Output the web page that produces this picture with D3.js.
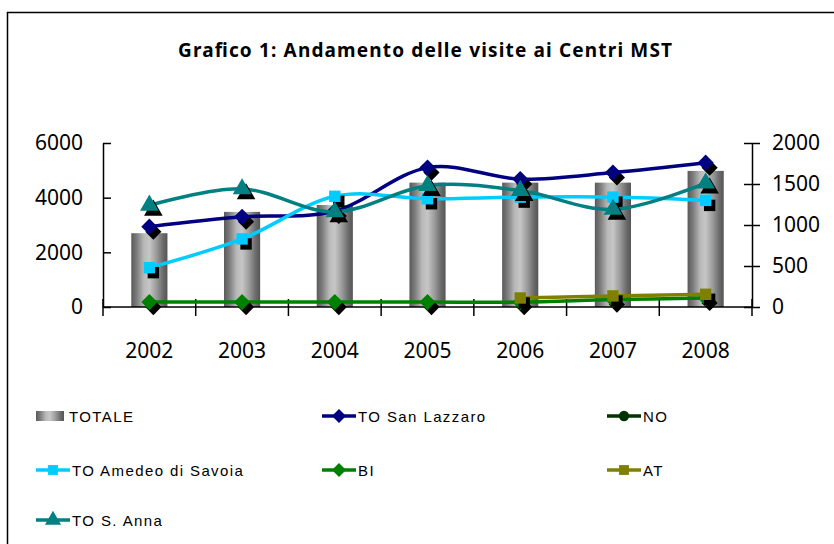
<!DOCTYPE html>
<html>
<head>
<meta charset="utf-8">
<script src="https://cdn.jsdelivr.net/npm/d3@7"></script>
<style>
  body { margin: 0; background: #fff; }
  svg { display: block; }
</style>
</head>
<body>
<svg id="chart" width="834" height="544"></svg>
<script>
// values
const years = ["2002", "2003", "2004", "2005", "2006", "2007", "2008"];
const totale = [2700, 3480, 3730, 4550, 4550, 4550, 4980];
const sanLazzaro = [980, 1100, 1170, 1700, 1560, 1640, 1760];
const novara = [null, null, null, null, null, null, null];
const amedeo = [480, 830, 1350, 1320, 1340, 1340, 1300];
const biella = [60, 60, 60, 60, 60, 90, 110];
const asti = [null, null, null, null, 110, 135, 155];
const sAnna = [1240, 1440, 1160, 1480, 1420, 1190, 1510];
const leftTicks = [0, 2000, 4000, 6000];
const rightTicks = [0, 500, 1000, 1500, 2000];

const series = [
    { name: "TO San Lazzaro", values: sanLazzaro, color: "#000080", shape: "diamond" },
    { name: "NO", values: novara, color: "#003300", shape: "circle" },
    { name: "TO Amedeo di Savoia", values: amedeo, color: "#00ccff", shape: "square" },
    { name: "BI", values: biella, color: "#008000", shape: "diamond" },
    { name: "AT", values: asti, color: "#808000", shape: "square" },
    { name: "TO S. Anna", values: sAnna, color: "#008080", shape: "triangle" }
];

const LEFT = 103, RIGHT = 752, TOP = 143, BOTTOM = 307;
const FONT = "'Noto Sans', 'DejaVu Sans', sans-serif";

const svg = d3.select("#chart");

// gradient for the cylinder bars
const grad = svg.append("defs").append("linearGradient")
    .attr("id", "cyl").attr("x1", 0).attr("x2", 1).attr("y1", 0).attr("y2", 0);
[[0, "#5a5a5a"], [0.15, "#7c7c7c"], [0.35, "#b9b9b9"], [0.5, "#c6c6c6"],
 [0.7, "#9a9a9a"], [0.88, "#6a6a6a"], [1, "#555555"]].forEach(s => {
    grad.append("stop").attr("offset", s[0]).attr("stop-color", s[1]);
});

// frame
svg.append("rect")
    .attr("x", 7.5).attr("y", 12.5).attr("width", 900).attr("height", 600)
    .attr("fill", "none").attr("stroke", "#000").attr("stroke-width", 1.5);

svg.append("text")
    .attr("x", 425).attr("y", 57)
    .attr("text-anchor", "middle")
    .attr("textLength", 494).attr("lengthAdjust", "spacing")
    .style("font-family", FONT).style("font-weight", "bold").style("font-size", "19px")
    .text("Grafico 1: Andamento delle visite ai Centri MST");

const x = d3.scaleBand().domain(years).range([LEFT, RIGHT])
    .paddingInner(0.61).paddingOuter(0.305);
const cx = d => x(d) + x.bandwidth() / 2;
const yL = d3.scaleLinear().domain([0, 6000]).range([BOTTOM, TOP]);
const yR = d3.scaleLinear().domain([0, 2000]).range([BOTTOM, TOP]);

// bars
svg.selectAll(".bar")
    .data(totale)
    .enter()
    .append("rect")
    .classed("bar", true)
    .attr("x", (d, i) => x(years[i]))
    .attr("width", x.bandwidth())
    .attr("y", d => yL(d))
    .attr("height", d => BOTTOM - yL(d))
    .attr("fill", "url(#cyl)");

// axes
const leftAxis = svg.append("g")
    .attr("transform", `translate(${LEFT},0)`)
    .call(d3.axisLeft(yL).tickValues(leftTicks).tickFormat(d3.format("d"))
        .tickSizeInner(8).tickSizeOuter(0).tickPadding(12));
leftAxis.selectAll(".tick line").attr("x2", 8);

const rightAxis = svg.append("g")
    .attr("transform", `translate(${RIGHT},0)`)
    .call(d3.axisRight(yR).tickValues(rightTicks).tickFormat(d3.format("d"))
        .tickSizeInner(8).tickSizeOuter(0).tickPadding(12));
rightAxis.selectAll(".tick line").attr("x1", -8);

const bottomAxis = svg.append("g")
    .attr("transform", `translate(0,${BOTTOM})`)
    .call(d3.axisBottom(x).tickSize(0).tickPadding(36));
bottomAxis.selectAll(".tick line").remove();
bottomAxis.select(".domain").attr("d", `M${LEFT},0H${RIGHT}`);

// category separators crossing the x axis
const edges = years.map(d => x(d) - x.step() * x.paddingInner() / 2).concat([RIGHT]);
svg.selectAll(".xtick")
    .data(edges)
    .enter()
    .append("line")
    .attr("x1", d => d).attr("x2", d => d)
    .attr("y1", BOTTOM - 8).attr("y2", BOTTOM + 9)
    .attr("stroke", "#000").attr("stroke-width", 1.5);

[leftAxis, rightAxis, bottomAxis].forEach(a => {
    a.selectAll("path, line").attr("stroke", "#000").attr("stroke-width", 1.5);
    a.selectAll("text").style("font-family", FONT).style("font-size", "21px").attr("fill", "#000");
});

function markerPath(shape, big) {
    const k = big ? 1 : 0.75;
    if (shape === "diamond") return d3.symbol(d3.symbolSquare, 130 * k)();
    if (shape === "square") return d3.symbol(d3.symbolSquare, 130 * k)();
    if (shape === "triangle") return d3.symbol(d3.symbolTriangle, 150 * k)();
    return d3.symbol(d3.symbolCircle, 110 * k)();
}
const rot = shape => shape === "diamond" ? " rotate(45)" : "";

const line = d3.line()
    .defined(d => d.v !== null)
    .x(d => cx(d.year))
    .y(d => yR(d.v))
    .curve(d3.curveCardinal.tension(0));

series.forEach(s => {
    const pts = s.values.map((v, i) => ({ year: years[i], v: v }));
    const valid = pts.filter(p => p.v !== null);

    svg.append("path")
        .datum(pts)
        .attr("d", line)
        .attr("fill", "none")
        .attr("stroke", s.color)
        .attr("stroke-width", 3.5);

    // marker shadows
    svg.selectAll(null)
        .data(valid)
        .enter()
        .append("path")
        .attr("d", markerPath(s.shape, true))
        .attr("transform", p => `translate(${cx(p.year) + 4},${yR(p.v) + 5})` + rot(s.shape))
        .attr("fill", "#000");

    svg.selectAll(null)
        .data(valid)
        .enter()
        .append("path")
        .attr("d", markerPath(s.shape, true))
        .attr("transform", p => `translate(${cx(p.year)},${yR(p.v)})` + rot(s.shape))
        .attr("fill", s.color);
});

// legend
const legendItems = [{ name: "TOTALE", bar: true }].concat(series);
const colX = [36, 322, 607];
const rowY = [416, 470, 520];

const legend = svg.selectAll(".legend")
    .data(legendItems)
    .enter()
    .append("g")
    .classed("legend", true)
    .attr("transform", (d, i) => `translate(${colX[i % 3]},${rowY[Math.floor(i / 3)]})`);

legend.each(function (d) {
    const g = d3.select(this);
    if (d.bar) {
        g.append("rect").attr("x", 0).attr("y", -5).attr("width", 28).attr("height", 10)
            .attr("fill", "url(#cyl)");
        g.append("text").attr("x", 33).attr("y", 5.5).text(d.name);
    } else {
        g.append("line").attr("x1", 0).attr("x2", 34).attr("y1", 0).attr("y2", 0)
            .attr("stroke", d.color).attr("stroke-width", 3.5);
        g.append("path").attr("d", markerPath(d.shape, false))
            .attr("transform", "translate(17,0)" + rot(d.shape))
            .attr("fill", d.color);
        g.append("text").attr("x", 36).attr("y", 5.5).text(d.name);
    }
});
legend.selectAll("text")
    .style("font-family", "'Liberation Sans', Arial, sans-serif")
    .style("font-size", "15px")
    .style("letter-spacing", "1.4px");
</script>
</body>
</html>
